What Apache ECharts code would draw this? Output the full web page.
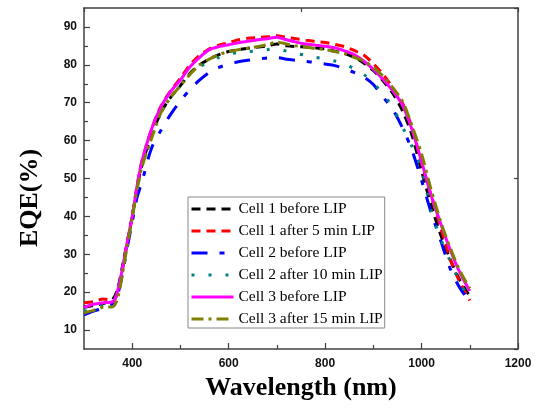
<!DOCTYPE html>
<html>
<head>
<meta charset="utf-8">
<script src="https://cdn.jsdelivr.net/npm/echarts@6/dist/echarts.min.js"></script>
<style>
html,body{margin:0;padding:0;background:#fff;}
#chart{width:535px;height:410px;}
</style>
</head>
<body>
<div id="chart"></div>
<script>
// ---- data ----
const wavelength = [300,320,340,360,370,380,390,400,410,420,440,460,480,500,520,540,560,580,600,620,640,660,680,700,720,740,760,780,800,820,840,860,880,900,920,940,960,980,1000,1020,1040,1060,1080,1100];

const cell1Before = [16,16.5,17,18.2,21,27,33.5,40,47.5,53.5,61.5,67.5,71.5,74.5,77.8,80,81.5,82.7,83.5,84,84.4,84.7,85,85.5,85,84.8,84.7,84.5,84.2,83.6,83,82,80.5,78.5,75.8,72.5,68,61.5,52,43,35,28.5,23,19];
const cell1After5 = [17.2,17.5,18.2,17.8,20,26,33,40,48,54.5,63,69.2,73.2,76.5,80,82.5,84.2,85.2,85.8,86.6,87,87.2,87.4,87.7,87.3,86.9,86.5,86.2,85.9,85.4,84.8,83.8,82.6,80.3,77.5,74,70,63.5,54,45.5,37,28.5,22.5,17.8];
const cell2Before = [14,15,15.8,17,19.5,25,32,38.5,45,49,58,62.8,67,70.5,73.5,76,78,79.3,80.2,80.8,81.2,81.5,81.8,81.9,81.5,81.2,80.9,80.6,80.2,79.8,79,78,76.8,74.8,71.5,68.3,63.5,57.5,49.5,41,33.5,26,21,17.5];
const cell2After10 = [15,15.5,16.5,17.5,20,26,33,39.5,47,53,61,67.5,71.5,74.5,77.5,79.5,80.8,82,82.8,83.3,83.5,83.7,84,84.3,83.6,83,82.5,82,81.6,81,80.3,79,77.5,75.2,72.3,68.8,63.7,58.5,52.5,41.5,34,28,22.5,18];
const cell3Before = [16,16.8,17.2,17.5,20.5,26.5,33.5,40,48,54.5,63,69,73,76,79.5,82,84,84.8,85.3,85.8,86.2,86.6,86.9,87.3,86.6,86,85.5,85.2,84.9,84.5,83.7,82.7,81,78.8,76.2,73.2,69.5,63,54.5,45.5,38,31,25,20.3];
const cell3After15 = [14.5,15.2,16,16.2,18.5,25,32.5,39.5,47,53,60.5,67.5,71.5,74.5,77.5,80,81.5,82.7,83.5,84,84.4,84.8,85.3,86,85.5,85,84.7,84.3,84,83.5,83,82,81,79.3,77,74,70.5,64,56.5,47,38.5,31.5,25.5,21];

const seriesNames = ['Cell 1 before LIP','Cell 1 after 5 min LIP','Cell 2 before LIP','Cell 2 after 10 min LIP','Cell 3 before LIP','Cell 3 after 15 min LIP'];

const xMajorTicks = [400,600,800,1000,1200];
const xMinorTicks = [500,700,900,1100];
const yMajorTicks = [10,20,30,40,50,60,70,80,90];
const yMinorTicks = [15,25,35,45,55,65,75,85];

// ---- chart ----
const chart = echarts.init(document.getElementById('chart'), null, {renderer:'canvas'});
const pair = arr => wavelength.map((w,i)=>[w,arr[i]]);
const axisCol = '#404040';

const styles = [
  {color:'#000000', type:[9,6]},
  {color:'#ff0000', type:[9,6]},
  {color:'#0000ff', type:[16,12,5,12]},
  {color:'#008080', type:[3,14]},
  {color:'#ff00ff', type:'solid'},
  {color:'#808000', type:[12,5,3,5]}
];
const dataSets = [cell1Before,cell1After5,cell2Before,cell2After10,cell3Before,cell3After15];

const series = dataSets.map((d,i)=>({
  name: seriesNames[i],
  type:'line',
  xAxisIndex:0, yAxisIndex:0,
  data: pair(d),
  smooth:0.3,
  symbol:'none',
  showSymbol:false,
  lineStyle:{color:styles[i].color, width:3, type:styles[i].type},
  itemStyle:{color:styles[i].color},
  z: 2 + i
}));

const option = {
  animation:false,
  backgroundColor:'#fff',
  grid:{left:84, right:17, top:8, bottom:61, containLabel:false},
  legend:{
    show:true,
    data: seriesNames,
    orient:'vertical',
    left:188, top:197,
    itemWidth:42, itemHeight:14, itemGap:6,
    padding:[4,2,1,2],
    borderColor:'#888', borderWidth:1,
    backgroundColor:'#fff',
    itemStyle:{opacity:0},
    lineStyle:{width:3},
    textStyle:{fontFamily:'"Liberation Serif","Times New Roman",serif', fontSize:15.5, color:'#000'},
    z:20
  },
  xAxis:[
    {
      type:'value', position:'bottom', min:300, max:1200,
      axisLine:{show:true, onZero:false, lineStyle:{color:axisCol, width:1.5}},
      axisTick:{show:true, inside:true, length:6, customValues:xMajorTicks, lineStyle:{color:axisCol, width:1.2}},
      axisLabel:{show:true, customValues:xMajorTicks, formatter:v=>String(v), margin:9, color:'#111', fontFamily:'"Liberation Sans",Arial,sans-serif', fontWeight:'bold', fontSize:12},
      splitLine:{show:false},
      name:'Wavelength (nm)', nameLocation:'middle', nameGap:24,
      nameTextStyle:{fontFamily:'"Liberation Serif","Times New Roman",serif', fontWeight:'bold', fontSize:26, color:'#000', verticalAlign:'top'}
    },
    {
      type:'value', position:'bottom', min:300, max:1200,
      axisLine:{show:false, onZero:false},
      axisTick:{show:true, inside:true, length:4, customValues:xMinorTicks, lineStyle:{color:axisCol, width:1.2}},
      axisLabel:{show:false}, splitLine:{show:false}
    },
    {
      type:'value', position:'top', min:300, max:1200, interval:450,
      axisLine:{show:true, onZero:false, lineStyle:{color:axisCol, width:1.5}},
      axisTick:{show:true, inside:true, length:4, lineStyle:{color:axisCol, width:1.2}},
      axisLabel:{show:false}, splitLine:{show:false}
    }
  ],
  yAxis:[
    {
      type:'value', position:'left', min:5, max:95,
      axisLine:{show:true, onZero:false, lineStyle:{color:axisCol, width:1.5}},
      axisTick:{show:true, inside:true, length:6, customValues:yMajorTicks, lineStyle:{color:axisCol, width:1.2}},
      axisLabel:{show:true, customValues:yMajorTicks, formatter:v=>String(v), margin:7, color:'#111', fontFamily:'"Liberation Sans",Arial,sans-serif', fontWeight:'bold', fontSize:12},
      splitLine:{show:false}
    },
    {
      type:'value', position:'left', min:5, max:95,
      axisLine:{show:false, onZero:false},
      axisTick:{show:true, inside:true, length:4, customValues:yMinorTicks, lineStyle:{color:axisCol, width:1.2}},
      axisLabel:{show:false}, splitLine:{show:false}
    },
    {
      type:'value', position:'right', min:5, max:95, interval:45,
      axisLine:{show:true, onZero:false, lineStyle:{color:axisCol, width:1.5}},
      axisTick:{show:true, inside:true, length:4, lineStyle:{color:axisCol, width:1.2}},
      axisLabel:{show:false}, splitLine:{show:false}
    }
  ],
  graphic:[{
    type:'text', x:30, y:198, rotation:Math.PI/2,
    style:{text:'EQE(%)', fontFamily:'"Liberation Serif","Times New Roman",serif', fontWeight:'bold', fontSize:26, fill:'#000', align:'center', verticalAlign:'middle'}
  }],
  series: series
};
chart.setOption(option);
</script>
</body>
</html>
